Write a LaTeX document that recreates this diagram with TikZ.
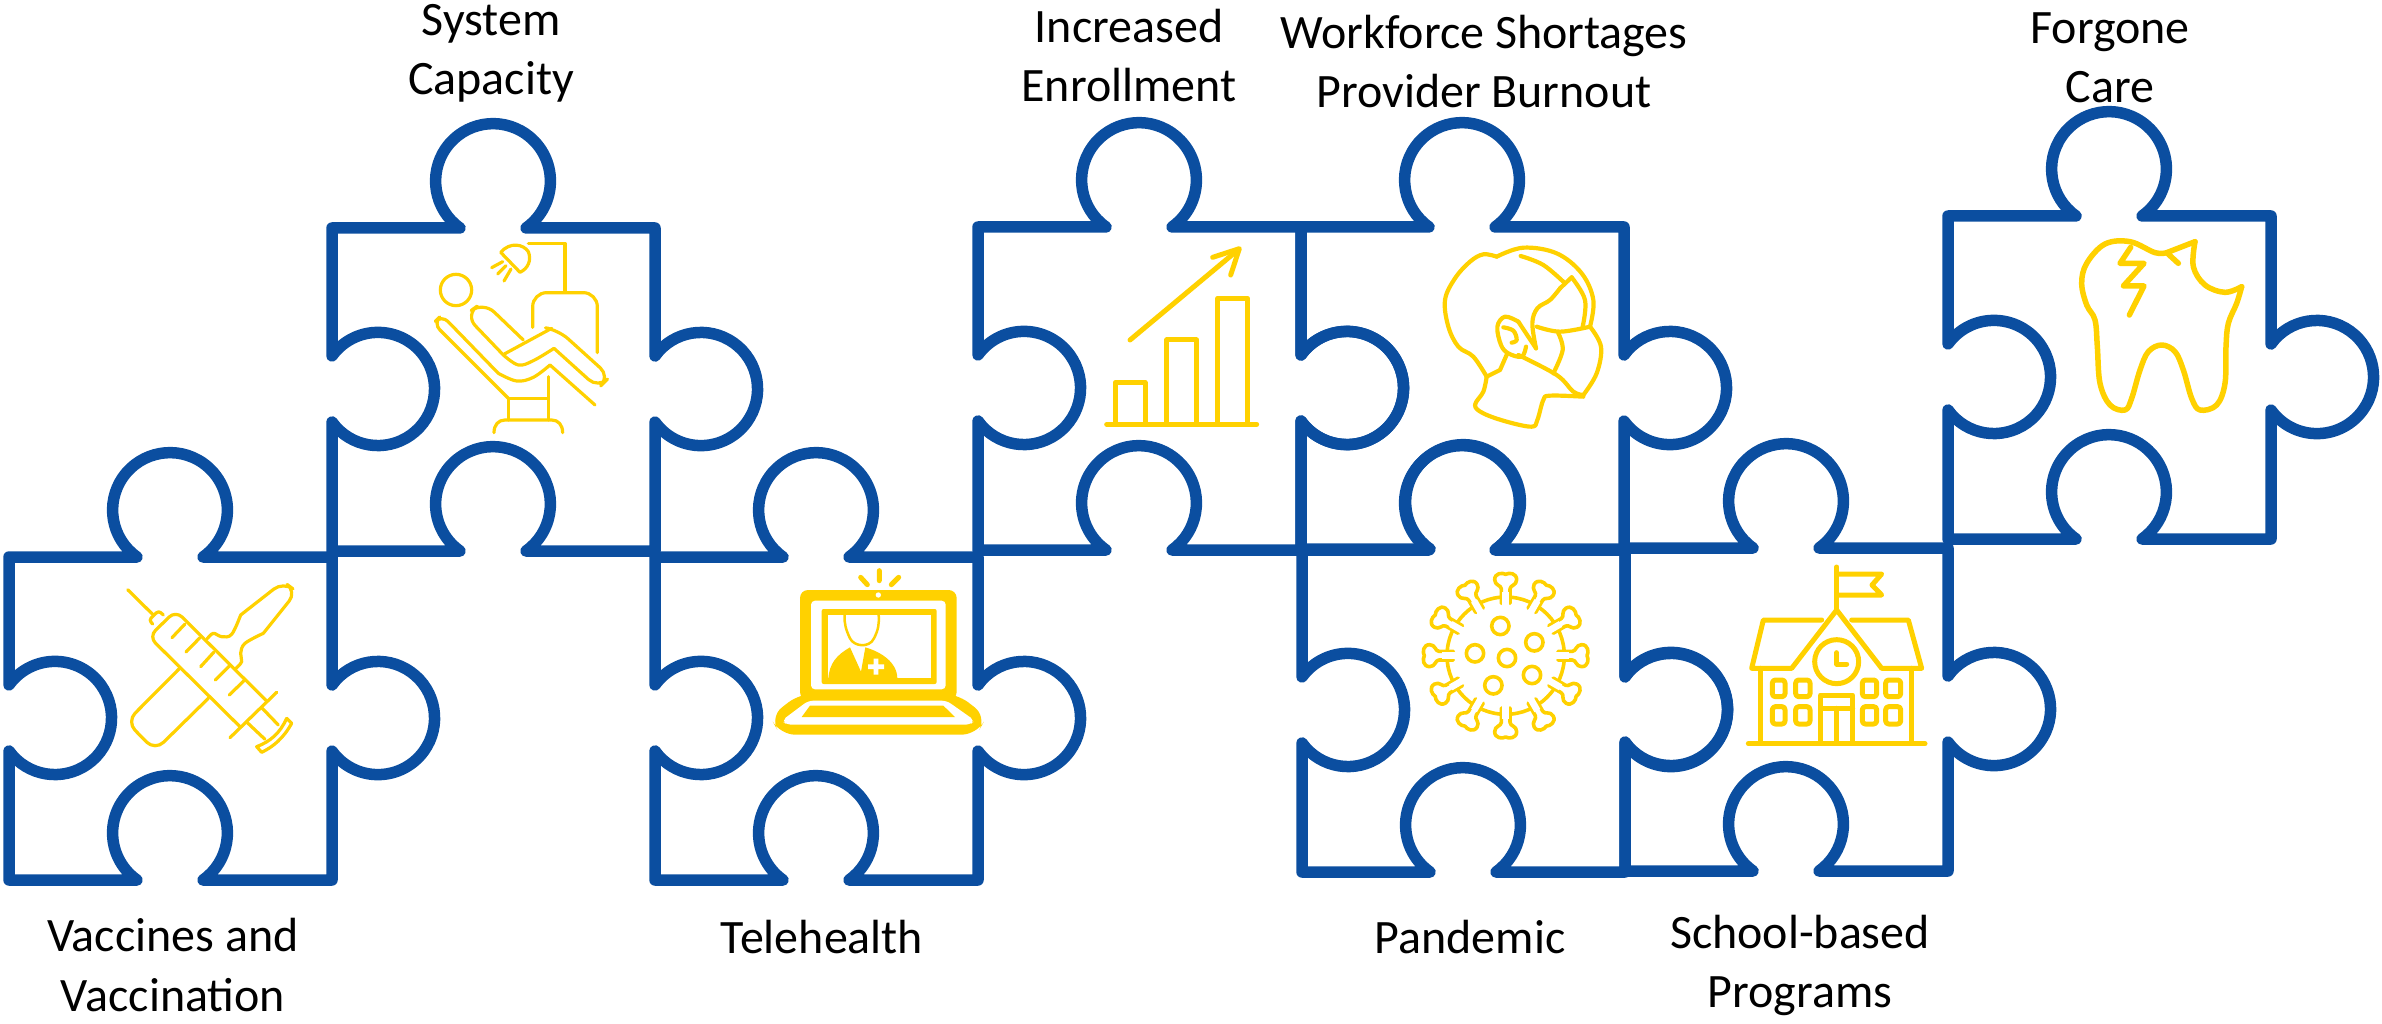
\documentclass[tikz,border=0pt]{standalone}
\usepackage{fontspec}
\setmainfont{Carlito}
\definecolor{pblue}{RGB}{11,78,160}
\definecolor{pgold}{RGB}{255,209,0}
\tikzset{
  x=0.1mm,y=0.1mm,
  puzzle/.style={draw=pblue,line width=1.15mm,line join=round,line cap=round},
  lbl/.style={align=center,inner sep=0pt,font=\fontsize{13.65}{16.8}\selectfont,text=black},
  ico/.style={draw=pgold,line join=round,line cap=round,line width=#1},
  ico/.default=0.32mm,
  zoomed/.style 2 args={shift={(#1,1023-#2)},xscale=1/3,yscale=-1/3}
}
\newcommand{\piece}[2]{%
  \path[puzzle,shift={(#1,1023-#2)}]
    (0,0) -- (128,0) arc[start angle=234.9,end angle=-54.9,radius=57.4]
    -- (323,0) -- (323,-128) arc[start angle=144.3,end angle=-144.3,radius=56.6]
    -- (323,-323) -- (194,-323) arc[start angle=-54.9,end angle=234.9,radius=57.4]
    -- (0,-323) -- (0,-194) arc[start angle=-144.3,end angle=144.3,radius=56.6]
    -- cycle;}
\newcommand{\sm}[1]{plot[smooth,tension=0.6] coordinates {#1}}
\begin{document}
\begin{tikzpicture}
\useasboundingbox (0,0) rectangle (2382,1023);
\piece{9}{557}
\piece{332}{228}
\piece{655}{557}
\piece{978}{227}
\piece{1301}{227}
\piece{1302}{549}
\piece{1625}{548}
\piece{1948}{216}

% syringe
\begin{scope}[zoomed={0}{440}]
\draw[ico] (383,449)--(458,523);
\draw[ico,rounded corners=0.3mm] (458,552)--(447,540)--(476,512)--(490,525);
\draw[ico,rounded corners=0.9mm] (800,783)--(527,512)--(447,590)--(722,862);
\draw[ico] (830,757)--(690,893);
\draw[ico] (785,803)--(835,855) (742,848)--(795,898);
\draw[ico] (860,835)--(875,850) .. controls (850,895) and (820,920) .. (785,937)--(770,920) .. controls (810,905) and (840,880) .. (860,835);
\draw[ico] (516,593)--(555,552) (558,636)--(600,593) (602,680)--(642,636) (646,720)--(688,678) (688,765)--(732,722);
\draw[ico] \sm{(622,596)(640,580)(665,590)(695,583)(722,525)};
\draw[ico,rounded corners=1.2mm] (722,525)--(850,425)--(890,455)--(790,580);
\draw[ico] \sm{(790,580)(735,610)(722,640)(725,665)(708,685)};
\draw[ico,rounded corners=1.2mm] (537,687)--(380,845)--(465,932)--(625,775);
\end{scope}

% dental chair
\begin{scope}[zoomed={320}{120}]
\draw[ico] (625,370)--(735,370)--(735,515);
\draw[ico] (542,397)--(600,457) .. controls (625,445) and (635,420) .. (625,395) .. controls (610,372) and (570,365) .. (542,397);
\draw[ico] (515,443)--(548,425) (533,462)--(558,437) (552,483)--(573,447);
\draw[ico] (408,510) circle (47);
\draw[ico,rounded corners=1.4mm] (638,622)--(638,518)--(832,518)--(832,698);
\draw[ico,rounded corners=1.5mm] (610,660)--(490,545)--(435,585)--(550,705);
\draw[ico] \sm{(550,705)(595,735)(640,722)(702,685)};
\draw[ico,rounded corners=1.3mm] (702,685)--(835,805)--(870,770)--(715,630)--(685,625);
\draw[ico] (695,625)--(553,702);
\draw[ico] (825,855)--(690,735);
\draw[ico] \sm{(690,735)(640,772)(590,783)(535,760)};
\draw[ico,rounded corners=0.9mm] (535,760)--(365,585)--(340,610)--(565,835);
\draw[ico] (565,835)--(565,900) (565,835)--(685,835) (685,770)--(685,900);
\draw[ico] (522,938) .. controls (522,915) and (535,900) .. (555,900) -- (695,900) .. controls (715,900) and (728,915) .. (728,938);
\end{scope}

% laptop
\begin{scope}[zoomed={740}{560}]
\fill[pgold,rounded corners=0.8mm] (180,420)--(180,90)--(650,90)--(650,420)--cycle;
\fill[white,rounded corners=0.4mm] (213,388)--(213,122)--(617,122)--(617,388)--cycle;
\fill[white] (415,105) circle (8);
\draw[ico=0.5mm] (362,52)--(382,74) (418,32)--(418,62) (454,74)--(476,52);
\fill[pgold,rounded corners=0.2mm] (245,147) rectangle (590,372);
\fill[white] (263,165) rectangle (572,354);
\draw[ico=0.25mm] (314,165) .. controls (312,190) and (318,210) .. (330,235) .. controls (342,260) and (388,265) .. (402,235) .. controls (415,210) and (418,190) .. (416,165);
\fill[pgold] (265,356) .. controls (268,310) and (290,285) .. (330,262) -- (363,335) -- (376,262) .. controls (420,275) and (472,305) .. (472,356) -- cycle;
\fill[white] (384,313) rectangle (432,327) (401,296) rectangle (415,344);
\fill[pgold,rounded corners=1.5mm] (180,400)--(90,470)--(120,524)--(710,524)--(740,470)--(650,400)--cycle;
\fill[white,rounded corners=0.5mm] (205,422)--(125,482)--(140,494)--(690,494)--(705,482)--(620,422)--cycle;
\fill[pgold] (210,437)--(185,471)--(645,471)--(610,437)--cycle;
\end{scope}

% chart
\begin{scope}[zoomed={1060}{220}]
\draw[ico=0.5mm] (166,612)--(166,487)--(255,487)--(255,612);
\draw[ico=0.5mm] (320,612)--(320,360)--(410,360)--(410,612);
\draw[ico=0.5mm] (473,612)--(473,235)--(563,235)--(563,612);
\draw[ico=0.5mm] (140,613)--(590,613);
\draw[ico=0.5mm] (210,360)--(536,88);
\draw[ico=0.5mm] (458,112)--(538,86)--(512,165);
\end{scope}

% masked head
\begin{scope}[zoomed={1400}{220}]
\draw[ico=0.42mm] \sm{(290,110)(250,103)(210,125)(165,175)(135,240)(145,320)(175,380)(220,410)(260,470)};
\draw[ico=0.42mm] \sm{(290,110)(370,83)(470,100)(545,160)(580,240)(570,320)};
\draw[ico=0.42mm] (260,470)--(300,450)--(322,400);
\draw[ico=0.42mm] \sm{(260,470)(250,515)(225,555)(250,580)(320,605)(395,620)(412,600)(430,540)(450,527)(550,530)};
\draw[ico=0.42mm] \sm{(362,108)(430,135)(495,190)};
\draw[ico=0.42mm] (515,172)--(480,205);
\draw[ico=0.42mm] \sm{(480,205)(450,240)(412,265)(397,310)(408,385)};
\draw[ico=0.42mm] \sm{(515,172)(555,240)(548,320)};
\draw[ico=0.42mm] (408,385)--(355,305);
\draw[ico=0.42mm] \sm{(355,305)(315,290)(292,320)(303,375)(325,400)(365,410)(378,380)};
\draw[ico=0.42mm] \sm{(310,322)(340,332)(350,360)(335,368)};
\draw[ico=0.42mm] \sm{(410,320)(480,335)(570,320)};
\draw[ico=0.42mm] \sm{(570,320)(603,380)(590,460)(550,525)};
\draw[ico=0.42mm] \sm{(355,405)(470,465)(520,515)(550,525)};
\draw[ico=0.42mm] \sm{(475,340)(488,390)(460,460)};
\end{scope}

% virus
\begin{scope}[zoomed={1400}{560}]
\draw[ico=0.36mm] (317,287) circle (176);
\foreach \a in {0,30,...,330}{
  \begin{scope}[shift={(317,287)},rotate=\a]
    \path[fill=white,ico=0.36mm] (-13,157)--(-13,200) .. controls (-13,212) and (-33,210) .. (-33,228) .. controls (-33,248) and (-10,250) .. (0,244) .. controls (10,250) and (33,248) .. (33,228) .. controls (33,210) and (13,212) .. (13,200) -- (13,157);
    \fill[white] (-10,150) rectangle (10,190);
  \end{scope}
}
\foreach \p in {(301,198),(403,247),(225,280),(321,294),(396,345),(280,376)}
  \draw[ico=0.36mm] \p circle (26);
\end{scope}

% school
\begin{scope}[zoomed={1730}{590}]
\draw[ico=0.5mm] (320,-69)--(320,55);
\draw[ico=0.5mm,line cap=butt] (320,-48)--(455,-48)--(426,-15)--(455,15)--(320,15);
\draw[ico=0.5mm] (275,90)--(100,90)--(65,235)--(185,235)--(320,60)--(455,235)--(575,235)--(535,90)--(365,90);
\draw[ico=0.5mm] (92,235)--(92,460) (545,235)--(545,460) (55,461)--(585,461);
\draw[ico=0.5mm] (320,215) circle (66);
\draw[ico=0.5mm] (320,188)--(320,222)--(350,222);
\fill[pgold] (313,195) rectangle (327,222);
\foreach \xa/\xb in {127/165,197/240,397/440,467/512}
  \foreach \ya/\yb in {270/320,350/402}
    \draw[ico=0.5mm,rounded corners=0.3mm] (\xa,\ya) rectangle (\xb,\yb);
\draw[ico=0.5mm] (272,460)--(272,315)--(368,315)--(368,460);
\draw[ico=0.5mm] (272,355)--(368,355) (320,355)--(320,460);
\end{scope}

% tooth
\begin{scope}[zoomed={2040}{220}]
\draw[ico=0.55mm] \sm{(380,98)(345,98)(270,65)(195,72)(140,130)(125,190)(140,255)(165,300)(172,380)(180,490)(210,555)(255,570)(275,535)(300,450)(325,395)(365,375)(405,395)(430,450)(455,535)(480,570)(530,555)(555,490)(558,380)(565,310)(590,250)(605,200)};
\draw[ico=0.55mm] \sm{(605,200)(555,217)(495,195)(460,140)(465,65)};
\draw[ico=0.55mm] (465,65)--(380,98)--(415,130);
\draw[ico=0.55mm] (272,82)--(240,130)--(312,130)--(250,198)--(312,198)--(268,285);
\end{scope}

\node[lbl] (capacity) at (491,1023-53) {System\\Capacity};
\node[lbl] (enroll) at (1129,1023-56) {Increased\\Enrollment};
\node[lbl] (workforce) at (1484,1023-62) {Workforce Shortages\\Provider Burnout};
\node[lbl] (forgone) at (2110,1023-58) {Forgone\\Care};
\node[lbl] (vaccines) at (173,1023-965) {Vaccines and\\Vaccination};
\node[lbl] (tele) at (822,1023-937) {Telehealth};
\node[lbl] (pandemic) at (1470,1023-937) {Pandemic};
\node[lbl] (school) at (1800,1023-965) {School-based\\Programs};
\end{tikzpicture}
\end{document}
